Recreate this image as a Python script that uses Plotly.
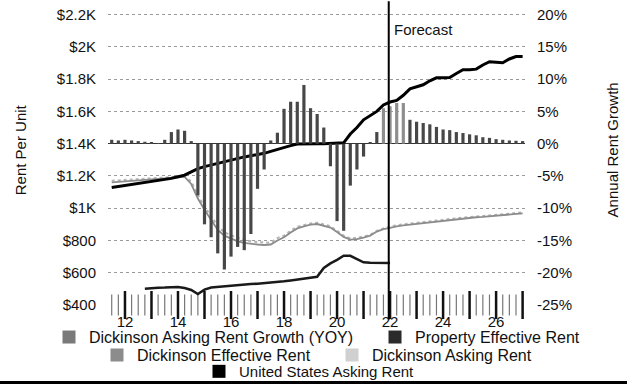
import plotly.graph_objects as go

# ---------------- data ----------------
quarters = [2011.5 + 0.25 * i for i in range(63)]  # 2011Q3 .. 2027Q1

growth_yoy = [
    0.6, 0.5,
    0.6, 0.5, 0.4, 0.3,
    0.2, 0.1, 0.6, 1.8,
    2.2, 2.0, 0.4, -8.0,
    -12.5, -14.5, -17.0, -19.5,
    -17.5, -16.0, -16.5, -14.0,
    -7.0, -4.0, 0.5, 1.7,
    5.4, 6.5, 6.5, 9.1,
    5.5, 4.6, 2.5, -3.5,
    -12.0, -13.5, -6.5, -4.0,
    -2.0, 0.2, 1.8, 5.5,
    5.8, 6.3, 6.3, 3.7,
    3.4, 3.2, 3.0, 2.6,
    2.2, 2.1, 1.8, 1.65,
    1.45, 1.3, 1.0, 0.9,
    0.7, 0.6, 0.5, 0.45,
    0.4,
]

us_asking = [
    1128, 1134,
    1140, 1146, 1152, 1158,
    1164, 1170, 1177, 1185,
    1195, 1205, 1225, 1245,
    1258, 1268, 1278, 1290,
    1300, 1310, 1318, 1325,
    1332, 1340, 1352, 1365,
    1375, 1388, 1398, 1400,
    1400, 1400, 1400, 1402,
    1402, 1405, 1460, 1500,
    1548, 1575, 1600, 1640,
    1658, 1668, 1700, 1740,
    1752, 1765, 1790, 1808,
    1808, 1810, 1835, 1858,
    1858, 1862, 1888, 1908,
    1905, 1902, 1925, 1940,
    1940,
]

dickinson_asking = [
    1170, 1172,
    1175, 1178, 1180, 1182,
    1185, 1188, 1190, 1193,
    1197, 1198, 1165, 1080,
    1010, 950, 890, 850,
    830, 815, 805, 795,
    790, 786, 786, 815,
    830, 860, 885, 895,
    905, 910, 900, 888,
    860, 830, 812, 815,
    825, 835, 860, 875,
    885, 895, 900, 905,
    910, 915, 918, 925,
    930, 935, 940, 942,
    945, 950, 952, 955,
    958, 962, 967, 970,
    975,
]

dickinson_effective = [
    1160, 1163,
    1166, 1169, 1172, 1175,
    1178, 1181, 1184, 1188,
    1192, 1194, 1150, 1060,
    990, 925, 865, 830,
    810, 795, 785, 778,
    775, 772, 775, 800,
    820, 850, 875, 888,
    898, 902, 893, 880,
    852, 822, 805, 808,
    818, 830, 855, 870,
    878, 888, 893, 898,
    903, 908, 912, 918,
    923, 928, 933, 936,
    939, 944, 946, 949,
    952, 956, 961, 964,
    968,
]

property_quarters = quarters[5:43]  # 2012Q4 .. 2022Q1
property_effective = [
    500,
    505, 507, 508, 510,
    512, 505, 493, 468,
    495, 508, 512, 518,
    522, 525, 527, 530,
    532, 535, 538, 542,
    547, 552, 558, 563,
    570, 575, 630, 658,
    680, 705, 705, 685,
    665, 662, 660, 660,
    660,
]

forecast_start = 2021.95
year_ticks = [2012, 2014, 2016, 2018, 2020, 2022, 2024, 2026]
year_labels = ["12", "14", "16", "18", "20", "22", "24", "26"]
rent_ticks = [400, 600, 800, 1000, 1200, 1400, 1600, 1800, 2000, 2200]
rent_labels = ["$400", "$600", "$800", "$1K", "$1.2K", "$1.4K", "$1.6K", "$1.8K", "$2K", "$2.2K"]
growth_ticks = [-25, -20, -15, -10, -5, 0, 5, 10, 15, 20]
growth_labels = ["-25%", "-20%", "-15%", "-10%", "-5%", "0%", "5%", "10%", "15%", "20%"]

FONT = "Liberation Sans, Arial, sans-serif"
C_BAR = "#474747"
C_BAR_NEAR = "#8e8e8e"
C_PROP = "#1a1a1a"
C_DEFF = "#8c8c8c"
C_DASK = "#b4b4b4"
C_US = "#000000"

fig = go.Figure()

# bars (secondary axis); the quarters around the forecast start are lighter
bar_colors = [C_BAR_NEAR if forecast_start - 0.25 <= q <= forecast_start + 0.6 else C_BAR
              for q in quarters]
fig.add_trace(go.Bar(
    x=quarters, y=growth_yoy, yaxis="y2", width=0.12,
    marker=dict(color=bar_colors, line=dict(width=0)),
    name="Dickinson Asking Rent Growth (YOY)", showlegend=False,
))

# axis tick marks along the bottom (quarterly / yearly)
minor_q = [q for q in quarters if q != int(q)]
major_q = [q for q in quarters if q == int(q)]
fig.add_trace(go.Scatter(
    x=minor_q, y=[rent_ticks[0]] * len(minor_q), mode="markers",
    marker=dict(symbol="line-ns-open", size=15, color="#777",
                line=dict(width=1.2, color="#777")),
    showlegend=False, hoverinfo="skip", cliponaxis=False,
))
fig.add_trace(go.Scatter(
    x=major_q, y=[rent_ticks[0]] * len(major_q), mode="markers",
    marker=dict(symbol="line-ns-open", size=20, color="#111",
                line=dict(width=2.5, color="#111")),
    showlegend=False, hoverinfo="skip", cliponaxis=False,
))

# lines (primary axis)
fig.add_trace(go.Scatter(
    x=quarters, y=dickinson_asking, mode="lines",
    line=dict(color=C_DASK, width=2, dash="dot"), showlegend=False,
    name="Dickinson Asking Rent",
))
fig.add_trace(go.Scatter(
    x=quarters, y=dickinson_effective, mode="lines",
    line=dict(color=C_DEFF, width=1.8), showlegend=False,
    name="Dickinson Effective Rent",
))
fig.add_trace(go.Scatter(
    x=property_quarters, y=property_effective, mode="lines",
    line=dict(color=C_PROP, width=2.5), showlegend=False,
    name="Property Effective Rent",
))
fig.add_trace(go.Scatter(
    x=quarters, y=us_asking, mode="lines",
    line=dict(color=C_US, width=3), showlegend=False,
    name="United States Asking Rent",
))

# legend entries (square swatches), one legend box per entry
legend_items = [
    ("Dickinson Asking Rent Growth (YOY)", "#7a7a7a", "legend", -0.1415, -0.110),
    ("Property Effective Rent", "#2a2a2a", "legend2", 0.6403, -0.110),
    ("Dickinson Effective Rent", "#8c8c8c", "legend3", -0.0264, -0.172),
    ("Dickinson Asking Rent", "#d0d0d0", "legend4", 0.5372, -0.172),
    ("United States Asking Rent", "#000000", "legend5", 0.2182, -0.228),
]
legend_layout = {}
for name, col, lg, lx, ly in legend_items:
    fig.add_trace(go.Scatter(
        x=[None], y=[None], mode="markers", name=name, legend=lg,
        marker=dict(symbol="square", size=13, color=col, line=dict(width=0)),
    ))
    legend_layout[lg] = dict(
        orientation="h", x=lx, y=ly, xanchor="left", yanchor="middle",
        bgcolor="rgba(0,0,0,0)", itemwidth=30,
        font=dict(family=FONT, size=16 if lg != "legend5" else 15, color="#111"),
    )

fig.update_layout(
    width=627, height=387,
    margin=dict(l=108, r=102, t=13, b=82, autoexpand=False),
    paper_bgcolor="white", plot_bgcolor="white",
    font=dict(family=FONT, size=15, color="#111"),
    barmode="overlay",
    xaxis=dict(range=[2011.36, 2027.09], tickvals=year_ticks, ticktext=year_labels,
               showgrid=False, zeroline=False, showline=False, ticks="",
               ticklabelstandoff=6, tickfont=dict(size=15, color="#111")),
    yaxis=dict(range=[400, 2210], tickvals=rent_ticks, ticktext=rent_labels,
               showgrid=True, gridcolor="#9a9a9a", griddash="dot", gridwidth=1,
               zeroline=False, showline=False, ticks="", ticklabelstandoff=11,
               ticklabeloverflow="allow",
               tickfont=dict(size=15, color="#111")),
    yaxis2=dict(range=[-25, 20.25], tickvals=growth_ticks, ticktext=growth_labels,
                overlaying="y", side="right", showgrid=False,
                zeroline=True, zerolinecolor="#333", zerolinewidth=1,
                showline=False, ticks="", ticklabelstandoff=11,
                ticklabeloverflow="allow",
                tickfont=dict(size=15, color="#111")),
    shapes=[
        dict(type="line", xref="x", yref="paper", x0=forecast_start, x1=forecast_start,
             y0=-0.05, y1=1.04, line=dict(color="black", width=2)),
        dict(type="line", xref="paper", yref="paper", x0=-0.3, x1=1.3,
             y0=-0.265, y1=-0.265, line=dict(color="black", width=3)),
    ],
    annotations=[
        dict(text="Forecast", x=forecast_start, xref="x", y=0.943, yref="paper",
             xanchor="left", yanchor="middle", xshift=3, showarrow=False,
             font=dict(family=FONT, size=15, color="#111")),
        dict(text="Rent Per Unit", x=-0.211, xref="paper", y=0.53, yref="paper",
             textangle=-90, xanchor="center", yanchor="middle", showarrow=False,
             font=dict(family=FONT, size=15, color="#111")),
        dict(text="Annual Rent Growth", x=1.209, xref="paper", y=0.53, yref="paper",
             textangle=-90, xanchor="center", yanchor="middle", showarrow=False,
             font=dict(family=FONT, size=15, color="#111")),
    ],
)
fig.update_layout(**legend_layout)

fig.write_html(
    "out.html",
    config={"displayModeBar": False},
    post_script="document.body.style.margin='0px';document.body.style.overflow='hidden';",
)
